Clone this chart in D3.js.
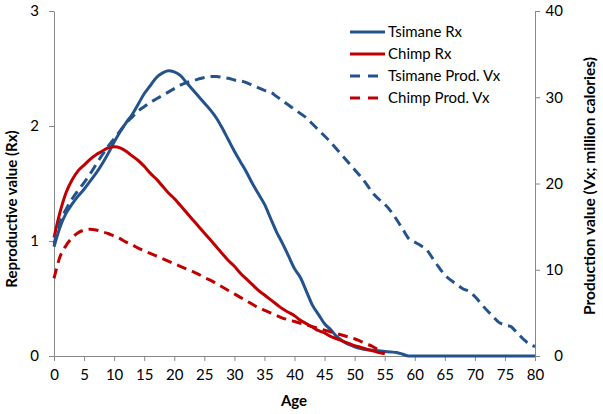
<!DOCTYPE html>
<html>
<head>
<meta charset="utf-8">
<script src="https://cdn.jsdelivr.net/npm/d3@7"></script>
<style>
  html, body { margin: 0; padding: 0; background: #fff; }
  svg { display: block; font-family: Lato, "Open Sans", sans-serif; }
</style>
</head>
<body>
<svg id="chart" width="603" height="414"></svg>
<script>
// ---- DATA ----
const ages = d3.range(0, 81);
const xTicks = [0,5,10,15,20,25,30,35,40,45,50,55,60,65,70,75,80];
const leftTicks = [0,1,2,3];
const rightTicks = [0,10,20,30,40];

const tsimaneRx = [0.95,1.12,1.24,1.32,1.39,1.45,1.52,1.59,1.67,1.76,1.86,1.95,2.03,2.10,2.19,2.28,2.35,2.42,2.46,2.48,
  2.47,2.44,2.38,2.32,2.26,2.20,2.14,2.07,1.98,1.88,1.78,1.69,1.60,1.50,1.41,1.32,1.20,1.08,0.98,0.87,
  0.76,0.68,0.56,0.44,0.36,0.28,0.23,0.17,0.13,0.10,0.08,0.065,0.055,0.05,0.045,0.04,0.035,0.03,0.015,0,
  0,0,0,0,0,0,0,0,0,0,0,0,0,0,0,0,0,0,0,0,0];
const chimpRx = [1.03,1.25,1.42,1.53,1.61,1.66,1.71,1.75,1.78,1.81,1.82,1.81,1.78,1.74,1.70,1.65,1.59,1.54,1.48,1.42,
  1.37,1.31,1.25,1.19,1.13,1.07,1.01,0.95,0.89,0.83,0.78,0.72,0.67,0.62,0.57,0.53,0.49,0.45,0.41,0.38,
  0.35,0.31,0.28,0.25,0.22,0.20,0.17,0.15,0.13,0.11,0.09,0.075,0.06,0.045,0.03,0.02];
const tsimaneVx = [13.0,15.5,17.0,18.2,19.2,20.1,21.1,22.2,23.3,24.3,25.2,26.1,27.0,27.7,28.4,28.9,29.4,29.8,30.2,30.6,
  31.0,31.4,31.7,31.9,32.1,32.3,32.4,32.4,32.3,32.2,32.0,31.9,31.7,31.4,31.1,30.8,30.6,30.1,29.6,29.1,
  28.6,28.1,27.6,26.9,26.2,25.5,24.8,24.0,23.2,22.4,21.6,20.8,19.9,18.9,18.2,17.6,16.8,15.8,14.7,13.6,
  13.2,12.8,12.3,11.3,10.3,9.4,8.8,8.3,7.8,7.5,6.9,6.1,5.3,4.6,3.9,3.6,3.4,2.7,2.0,1.4,1.1];
const chimpVx = [9.0,11.5,12.8,13.7,14.3,14.6,14.7,14.6,14.4,14.2,13.9,13.6,13.2,12.9,12.5,12.2,11.9,11.6,11.3,11.0,
  10.7,10.4,10.1,9.8,9.5,9.1,8.8,8.4,8.0,7.6,7.2,6.8,6.4,6.0,5.6,5.3,5.0,4.7,4.4,4.2,
  4.0,3.8,3.6,3.4,3.2,3.0,2.8,2.6,2.4,2.2,2.0,1.7,1.4,1.1,0.7,0.3];

const seriesNames = ["Tsimane Rx","Chimp Rx","Tsimane Prod. Vx","Chimp Prod. Vx"];

// ---- LAYOUT ----
const svg = d3.select("#chart");
const x = d3.scaleLinear().domain([0,80]).range([54,535]);
const yL = d3.scaleLinear().domain([0,3]).range([356,11]);
const yR = d3.scaleLinear().domain([0,40]).range([356,11]);
const BLUE = "#24528D", RED = "#C00000", AXIS = "#888";

const series = [
  {name: seriesNames[0], data: tsimaneRx, y: yL, color: BLUE, dash: null},
  {name: seriesNames[1], data: chimpRx, y: yL, color: RED, dash: null},
  {name: seriesNames[2], data: tsimaneVx, y: yR, color: BLUE, dash: "10,6"},
  {name: seriesNames[3], data: chimpVx, y: yR, color: RED, dash: "10,6"}
];

// axes
const gx = svg.append("g").attr("transform","translate(0,356)")
  .call(d3.axisBottom(x).tickValues(xTicks).tickSize(5).tickPadding(8).tickSizeOuter(0));
const gl = svg.append("g").attr("transform","translate(54,0)")
  .call(d3.axisLeft(yL).tickValues(leftTicks).tickFormat(d3.format("d")).tickSize(5).tickPadding(10).tickSizeOuter(0));
const gr = svg.append("g").attr("transform","translate(535,0)")
  .call(d3.axisRight(yR).tickValues(rightTicks).tickSize(5).tickPadding(23).tickSizeOuter(0));
gr.selectAll("text").attr("text-anchor","end");
[gx,gl,gr].forEach(g => {
  g.select(".domain").attr("stroke",AXIS).attr("stroke-width",1);
  g.selectAll(".tick line").attr("stroke",AXIS);
  g.selectAll("text").attr("font-size",15).attr("fill","#000").attr("font-family","Lato, 'Open Sans', sans-serif");
});

// lines
series.forEach(s => {
  const line = d3.line()
    .x((d,i) => x(ages[i]))
    .y(d => s.y(d))
    .curve(d3.curveMonotoneX);
  svg.append("path")
    .datum(s.data)
    .attr("fill","none")
    .attr("stroke",s.color)
    .attr("stroke-width",3)
    .attr("stroke-dasharray",s.dash)
    .attr("d",line);
});

// axis titles
svg.append("text").attr("x",294).attr("y",406).attr("text-anchor","middle")
  .attr("font-size",15).attr("font-weight","bold").text("Age");
svg.append("text").attr("transform","translate(17,209) rotate(-90)").attr("text-anchor","middle")
  .attr("font-size",15).attr("font-weight","bold").text("Reproductive value (Rx)");
svg.append("text").attr("transform","translate(595,186) rotate(-90)").attr("text-anchor","middle")
  .attr("font-size",15.5).attr("font-weight","bold").text("Production value (Vx; million calories)");

// legend
const lg = svg.append("g");
series.forEach((s,i) => {
  const yy = 32 + i*22;
  lg.append("line").attr("x1",350).attr("x2",385).attr("y1",yy).attr("y2",yy)
    .attr("stroke",s.color).attr("stroke-width",3).attr("stroke-dasharray",s.dash ? "10,8" : null);
  lg.append("text").attr("x",388).attr("y",yy+5).attr("font-size",15).text(s.name);
});
</script>
</body>
</html>
